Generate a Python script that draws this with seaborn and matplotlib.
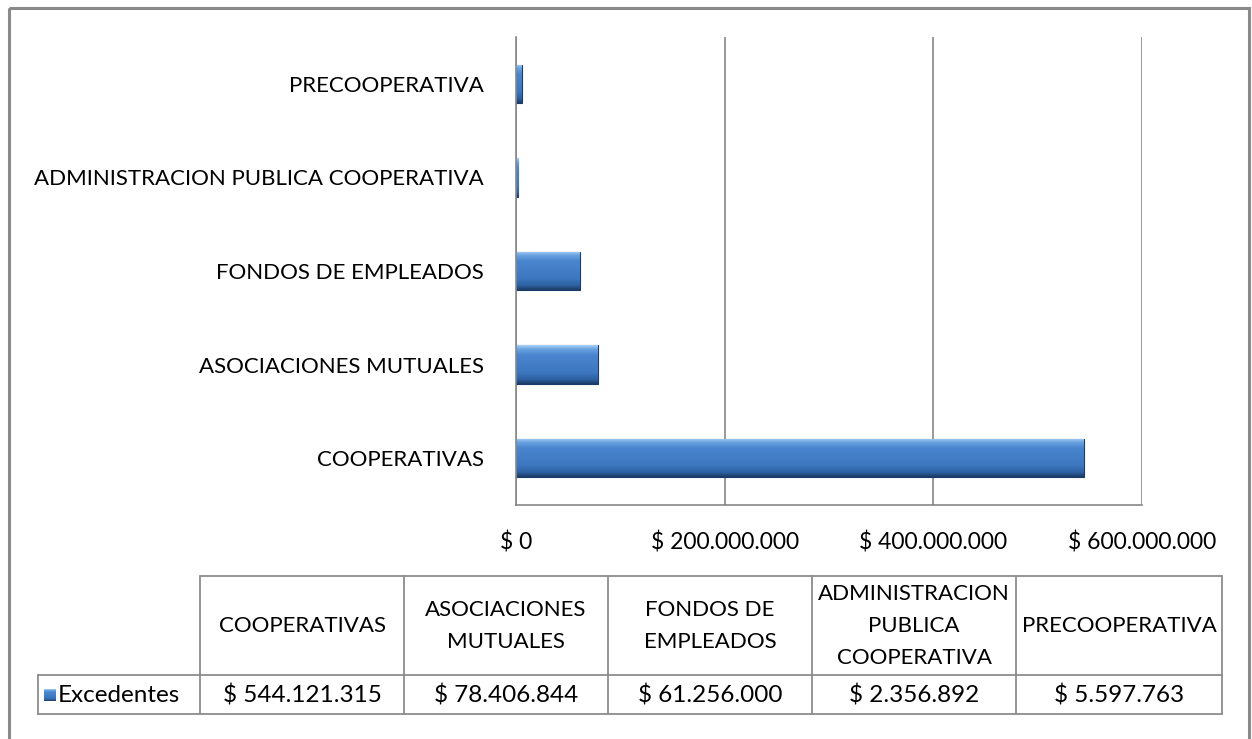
import numpy as np
import pandas as pd
import matplotlib
matplotlib.use("Agg")
import matplotlib.pyplot as plt
import seaborn as sns
from matplotlib.colors import LinearSegmentedColormap
from matplotlib.patches import Rectangle

# === Data ===
categories = ["COOPERATIVAS", "ASOCIACIONES MUTUALES", "FONDOS DE EMPLEADOS",
              "ADMINISTRACION PUBLICA COOPERATIVA", "PRECOOPERATIVA"]
header_labels = ["COOPERATIVAS", "ASOCIACIONES\nMUTUALES", "FONDOS DE\nEMPLEADOS",
                 "ADMINISTRACION\nPUBLICA\nCOOPERATIVA", "PRECOOPERATIVA"]
excedentes = [544121315, 78406844, 61256000, 2356892, 5597763]
series_name = "Excedentes"
x_ticks = [0, 200000000, 400000000, 600000000]

df = pd.DataFrame({"categoria": categories, "valor": excedentes})


def pesos(v):
    return "$ " + f"{v:,.0f}".replace(",", ".")


sns.set_theme(style="white")
plt.rcParams["font.family"] = ["Lato", "DejaVu Sans"]

W, H = 1252, 739
fig = plt.figure(figsize=(W / 100, H / 100), dpi=100)

# overlay in pixel coordinates for frame + data table
ov = fig.add_axes([0, 0, 1, 1])
ov.set_xlim(0, W)
ov.set_ylim(H, 0)
ov.axis("off")
ov.add_patch(Rectangle((9, 8), 1240, 760, fill=False, edgecolor="#8a8a8a", lw=2.2))

# === Bar chart ===
x0, x1, y0, y1 = 516, 1142, 37, 505
ax = fig.add_axes([x0 / W, 1 - y1 / H, (x1 - x0) / W, (y1 - y0) / H])
ax.set_facecolor("none")
sns.barplot(data=df, y="categoria", x="valor", order=categories[::-1],
            color="#3f7bc4", width=0.41, ax=ax, saturation=1)
ax.set_xlim(0, 600000000)
ax.set_xticks(x_ticks)
ax.set_xticklabels([pesos(t) if t else "$ 0" for t in x_ticks])
ax.set_xlabel("")
ax.set_ylabel("")
ax.tick_params(axis="x", length=0, pad=19, labelsize=16.5, colors="black")
ax.tick_params(axis="y", length=0, pad=23, labelsize=16, colors="black")
ax.set_axisbelow(True)
ax.grid(axis="x", color="#878787", lw=1.2)
ax.grid(axis="y", visible=False)
for s in ["top", "right"]:
    ax.spines[s].set_visible(False)
for s in ["left", "bottom"]:
    ax.spines[s].set_color("#878787")
    ax.spines[s].set_linewidth(1.2)

bar_cmap = LinearSegmentedColormap.from_list(
    "bevel", [(0, "#a7d0f5"), (0.1, "#6aa3e0"), (0.25, "#4a86cf"),
              (0.7, "#3c77bf"), (0.88, "#2f62a3"), (1, "#1b3c68")])
grad = np.linspace(0, 1, 100).reshape(-1, 1)
ylim = ax.get_ylim()
for bar in list(ax.patches):
    bx, by = bar.get_x(), bar.get_y()
    bw, bh = bar.get_width(), bar.get_height()
    bar.set_edgecolor("#1b3c68")
    bar.set_linewidth(0.8)
    im = ax.imshow(grad, cmap=bar_cmap, extent=[bx, bx + bw, by + bh, by],
                   origin="upper", aspect="auto", zorder=bar.get_zorder() + 0.1)
    im.set_clip_path(bar)
ax.set_xlim(0, 600000000)
ax.set_ylim(ylim)

# === Data table ===
line_c = "#8c8c8c"
lw = 1.3
col_edges = [200, 404, 608, 812, 1016, 1222]
top, mid, bot = 576, 675, 714
tab_left = 38
ov.plot([col_edges[0], col_edges[-1]], [top, top], color=line_c, lw=lw)
ov.plot([tab_left, col_edges[-1]], [mid, mid], color=line_c, lw=lw)
ov.plot([tab_left, col_edges[-1]], [bot, bot], color=line_c, lw=lw)
ov.plot([tab_left, tab_left], [mid, bot], color=line_c, lw=lw)
for xe in col_edges:
    ov.plot([xe, xe], [top, bot], color=line_c, lw=lw)

for i, (lab, v) in enumerate(zip(header_labels, excedentes)):
    cx = (col_edges[i] + col_edges[i + 1]) / 2
    ov.text(cx, (top + mid) / 2 + 1, lab, ha="center", va="center",
            fontsize=16, linespacing=1.75, color="black")
    ov.text(cx, (mid + bot) / 2 + 1, pesos(v), ha="center", va="center",
            fontsize=17.5, color="black")

# legend key + series name
ov.imshow(grad, cmap=bar_cmap, extent=[44, 56, 701, 689], aspect="auto", zorder=3)
ov.set_xlim(0, W)
ov.set_ylim(H, 0)
ov.text(58, (mid + bot) / 2 + 1, series_name, ha="left", va="center",
        fontsize=17.5, color="black")

fig.savefig("out.png", dpi=100)
